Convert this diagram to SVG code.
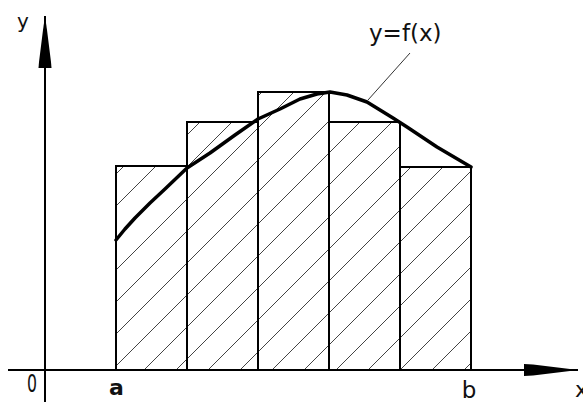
<svg xmlns="http://www.w3.org/2000/svg" width="583" height="402" viewBox="0 0 583 402">
  <style>
    .rect { fill: url(#hatch); stroke: #000; stroke-width: 2; }
    .axis { stroke: #000; stroke-width: 2; fill: none; }
    .lbl { font-family: "DejaVu Sans", "Liberation Sans", sans-serif; fill: #111; }
    .curve { fill: none; stroke: #000; stroke-width: 3.5; stroke-linejoin: round; stroke-linecap: round; }
    .leader { stroke: #333; stroke-width: 1; fill: none; }
  </style>
  <defs>
    <pattern id="hatch" patternUnits="userSpaceOnUse" x="2" y="0" width="32" height="32">
      <path d="M-1,33 L33,-1 M-9,9 L9,-9 M23,41 L41,23" stroke="#444" stroke-width="1" fill="none"/>
    </pattern>
  </defs>
  <rect width="583" height="402" fill="#fff"/>

  <g id="rect1"><rect class="rect" x="116" y="166" width="71" height="204"/></g>
  <g id="rect2"><rect class="rect" x="187" y="122" width="71" height="248"/></g>
  <g id="rect3"><rect class="rect" x="258" y="92" width="71" height="278"/></g>
  <g id="rect4"><rect class="rect" x="329" y="122" width="71" height="248"/></g>
  <g id="rect5"><rect class="rect" x="400" y="167" width="71" height="203"/></g>

  <g id="axes">
    <line class="axis" x1="45" y1="16" x2="45" y2="402"/>
    <polygon points="45,16 47,30 51,62 51.5,68 38.5,68 39,62 43,30" fill="#000"/>
    <line class="axis" x1="8" y1="370" x2="578" y2="370"/>
    <polygon points="524,364 533,364.5 570,369 570,371 533,375.5 524,376" fill="#000"/>
  </g>

  <g id="curve">
    <polyline class="curve" points="116,240 125,229 135,218 150,203 165,189 187,168 210,153 235,135 258,119 280,109 300,99 317,94 330,92 347,95 367,102 393,118 407,127 437,147 471,167"/>
  </g>

  <g id="connectors">
    <line class="leader" x1="410" y1="53" x2="368" y2="100"/>
  </g>

  <g id="labels">
    <text class="lbl" x="17" y="28" font-size="20">y</text>
    <text class="lbl" x="27" y="392" font-size="24" textLength="10" lengthAdjust="spacingAndGlyphs">0</text>
    <text class="lbl" x="116.5" y="395" font-size="22" font-weight="bold" text-anchor="middle">a</text>
    <text class="lbl" x="469" y="398" font-size="23" text-anchor="middle">b</text>
    <text class="lbl" x="575" y="397" font-size="22">x</text>
    <text class="lbl" x="369" y="41" font-size="23">y=f(x)</text>
  </g>
</svg>
